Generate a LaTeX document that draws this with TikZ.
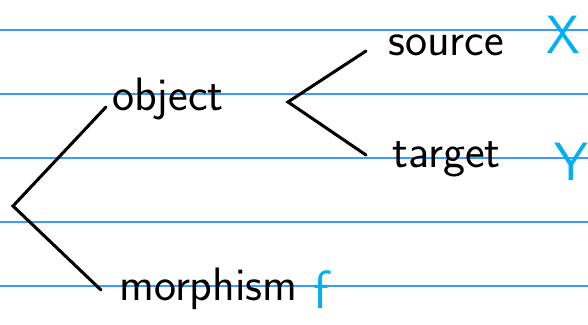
\documentclass[tikz,border=0pt]{standalone}
\usepackage{tikz}

\definecolor{ruleblue}{RGB}{60,155,250}
\definecolor{inkblue}{RGB}{0,176,240}

\begin{document}
\begin{tikzpicture}[x=0.03cm, y=-0.03cm]
				% Styles
				\tikzset{word/.style={anchor=base west, inner sep=0pt, font=\fontsize{40}{48}\selectfont\sffamily},
					note/.style={word, text=inkblue, font=\fontsize{46}{54}\selectfont\sffamily},
					branch/.style={line width=2.6pt, line cap=round}}
				\useasboundingbox (0,0) rectangle (588,324);
				
				% Ruled paper
				\foreach \y in {30,94,158,222,286}
					\draw[ruleblue, line width=1pt] (0,\y) -- (588,\y);
				
				% Words
				\node[word] (object) at (112,110) {object};
				\node[word] (morphism) at (119,300) {morphism};
				\node[word] (source) at (388,55) {source};
				\node[word] (target) at (392,167) {target};
				
				% Notes in blue
				\node[note] (x) at (546,53) {X};
				\node[note] (y) at (554,180) {Y};
				\node[note] (f) at (313,308) {f};
				
				% Define coordinates
				\coordinate (root) at (13,206);
				\coordinate (fork) at (288,102);
				\coordinate (objend) at (106,107);
				\coordinate (morend) at (101,290);
				\coordinate (srcend) at (366,51);
				\coordinate (tgtend) at (366,155);
				
				% Draw the branches
				\draw[branch] (objend) -- (root) -- (morend);
				\draw[branch] (srcend) -- (fork) -- (tgtend);
			\end{tikzpicture}
\end{document}
